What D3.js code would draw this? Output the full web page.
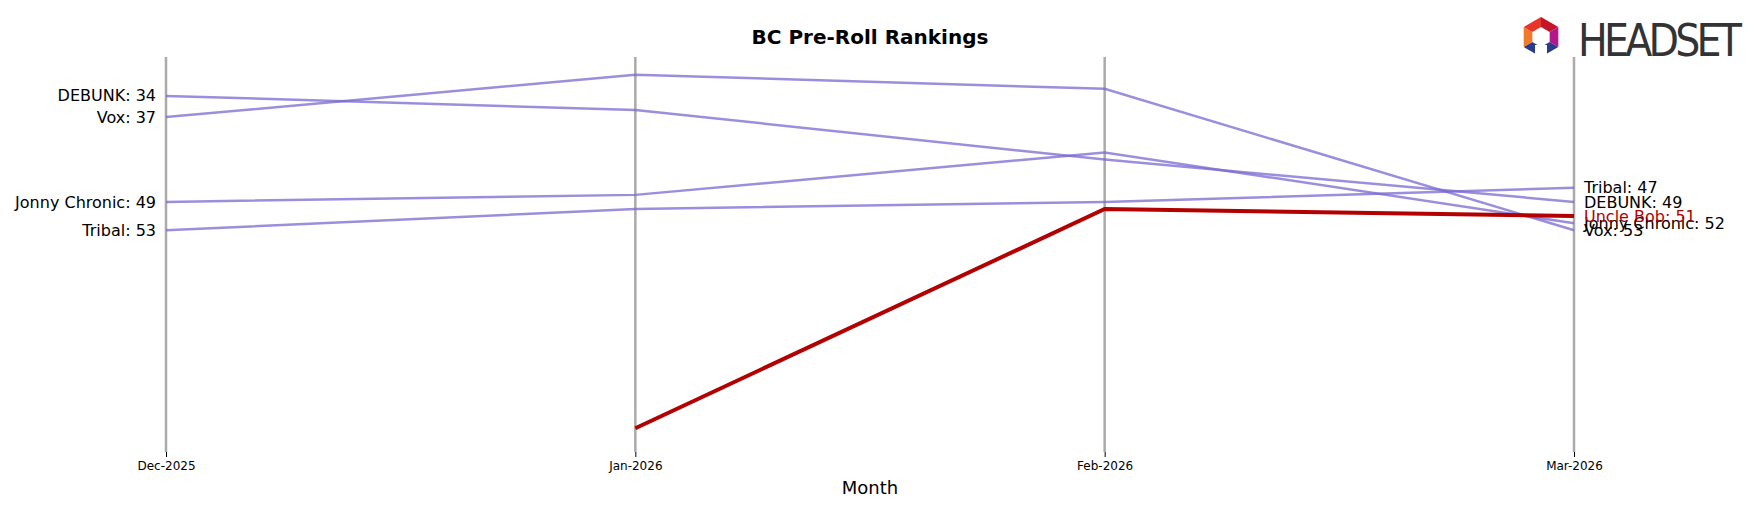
<!DOCTYPE html>
<html><head><meta charset="utf-8">
<script src="https://cdn.jsdelivr.net/npm/d3@7"></script>
<style>body{margin:0;background:#fff;font-family:"DejaVu Sans",sans-serif}</style>
</head><body><svg id="c" width="1757" height="507"></svg>
<script>
var months = ['Dec-2025', 'Jan-2026', 'Feb-2026', 'Mar-2026'];
// ranks per month, null = not ranked
var debunk = [34, 36, 43, 49];
var vox = [37, 31, 33, 53];
var jonny = [49, 48, 42, 52];
var tribal = [53, 50, 49, 47];
var uncleBob = [null, 81, 50, 51];

var series = [
  {name: 'DEBUNK', v: debunk},
  {name: 'Vox', v: vox},
  {name: 'Jonny Chronic', v: jonny},
  {name: 'Tribal', v: tribal},
  {name: 'Uncle Bob', v: uncleBob, hi: true}
];

var svg = d3.select('#c');
var x = d3.scalePoint().domain(months).range([166, 1574]);
var y = d3.scaleLinear().domain([28.5, 83.8]).range([57, 448]);

svg.append('text').attr('x', 870).attr('y', 44).attr('text-anchor', 'middle')
  .attr('font-size', 20).attr('font-weight', 'bold').text('BC Pre-Roll Rankings');

months.forEach(function(m){
  svg.append('line').attr('x1', x(m)).attr('x2', x(m)).attr('y1', 57).attr('y2', 452)
    .attr('stroke', '#aaa').attr('stroke-width', 2.5);
});
var ax = svg.append('g').attr('transform', 'translate(0,452)')
  .call(d3.axisBottom(x).tickSize(5).tickPadding(4));
ax.select('.domain').remove();
ax.selectAll('text').attr('font-size', 12).attr('font-family', 'DejaVu Sans');
svg.append('text').attr('x', 870).attr('y', 494).attr('text-anchor', 'middle')
  .attr('font-size', 18).text('Month');

var line = d3.line().defined(function(d){return d != null;})
  .x(function(d, i){return x(months[i]);}).y(function(d){return y(d);});

series.filter(function(s){return !s.hi;}).concat(series.filter(function(s){return s.hi;}))
  .forEach(function(s){
  svg.append('path').datum(s.v).attr('d', line).attr('fill', 'none')
    .attr('stroke', s.hi ? '#b30000' : '#7b68d0').attr('stroke-opacity', s.hi ? 1 : 0.75)
    .attr('stroke-width', s.hi ? 4 : 2.5);
  var col = s.hi ? '#b30000' : '#000';
  if (s.v[0] != null) svg.append('text').attr('x', x(months[0]) - 10).attr('y', y(s.v[0]))
    .attr('dy', '0.35em').attr('text-anchor', 'end').attr('font-size', 16).attr('fill', col)
    .text(s.name + ': ' + s.v[0]);
  svg.append('text').attr('x', x(months[3]) + 10).attr('y', y(s.v[3]))
    .attr('dy', '0.35em').attr('font-size', 16).attr('fill', col)
    .text(s.name + ': ' + s.v[3]);
});

// logo
var lg = svg.append('g').attr('transform', 'translate(1541,37)');
var hex = d3.range(6).map(function(i){var a = Math.PI/3*i - Math.PI/2; return [20*Math.cos(a), 20*Math.sin(a)];});
var cols = ['#c4162a', '#b5178a', '#2a3a8c', '#2a3a8c', '#f07a2a', '#e8352a'];
hex.forEach(function(p, i){
  var q = hex[(i+1)%6];
  lg.append('path').attr('d', 'M' + p + 'L' + q + 'L' + [q[0]*0.5, q[1]*0.5] + 'L' + [p[0]*0.5, p[1]*0.5] + 'Z')
    .attr('fill', cols[i]);
});
lg.append('rect').attr('x', -6).attr('y', 8).attr('width', 12).attr('height', 14).attr('fill', '#fff');
svg.append('text').attr('x', 1578).attr('y', 56).attr('font-size', 44).attr('fill', '#333')
  .attr('font-family', 'Liberation Sans Narrow, DejaVu Sans Condensed, sans-serif')
  .attr('textLength', 164).text('HEADSET');
</script></body></html>
